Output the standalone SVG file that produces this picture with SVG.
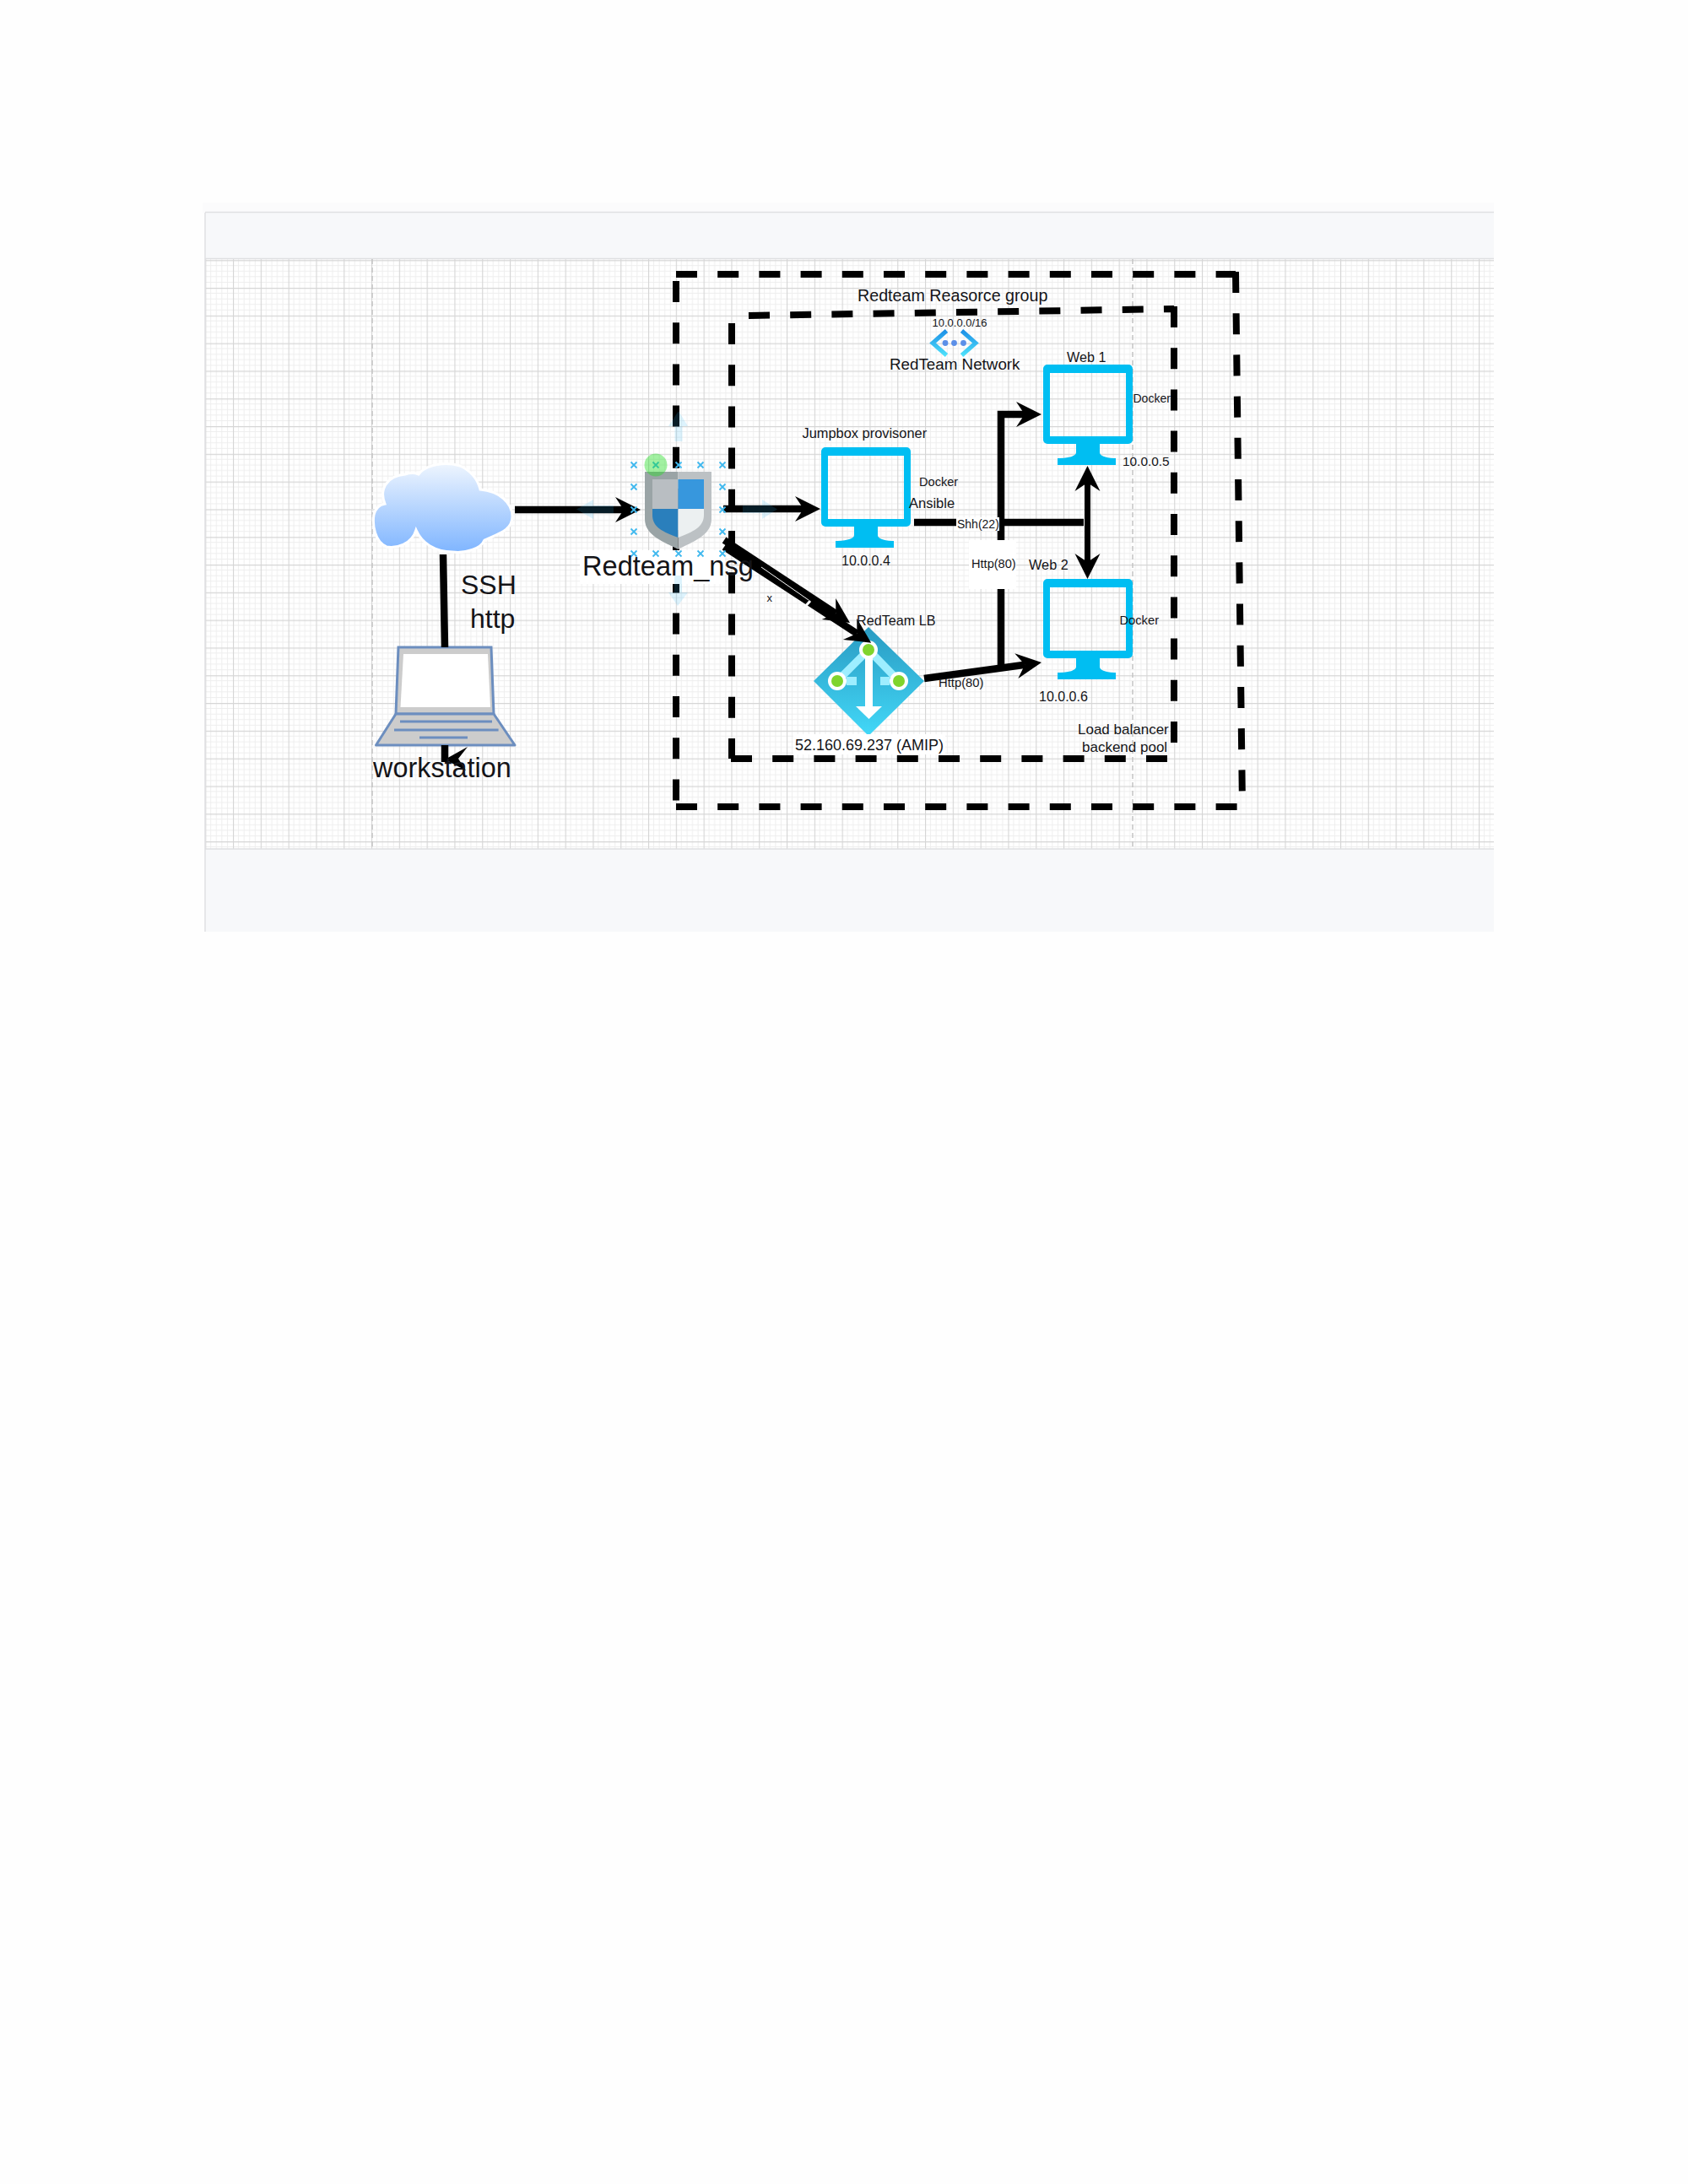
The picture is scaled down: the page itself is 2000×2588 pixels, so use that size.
<svg xmlns="http://www.w3.org/2000/svg" width="2000" height="2588" viewBox="0 0 2000 2588">
<style>
text{font-family:"Liberation Sans",Arial,sans-serif;fill:#141418}
.box{fill:none;stroke:#000;stroke-width:8;stroke-dasharray:25 24.2}
.conn{fill:none;stroke:#000;stroke-width:8.5}
.arr{marker-end:url(#head)}
.pageline{stroke:#c4c4c4;stroke-width:1.5;stroke-dasharray:6 4;fill:none}
.bg{fill:#fff}
.hint{fill:#29b6f2;opacity:.16}
.mon{fill:#00bef2;fill-rule:evenodd}
.lap{stroke:#6c8ebf;stroke-width:3}
.key{fill:none;stroke:#6c8ebf;stroke-width:3}
.x{stroke:#3fb8ee;stroke-width:1.8;fill:none}
.band{fill:#f7f8fa}
.rule{stroke:#dfe0e2;stroke-width:1.5}
</style>
<defs>
<pattern id="grid" patternUnits="userSpaceOnUse" x="243.2" y="308.2" width="32.8" height="32.8">
<path d="M6.56 0V32.8M13.12 0V32.8M19.68 0V32.8M26.24 0V32.8M0 6.56H32.8M0 13.12H32.8M0 19.68H32.8M0 26.24H32.8" stroke="#eeeeee" stroke-width="1" fill="none"/>
<path d="M0.5 0V32.8M0 0.5H32.8" stroke="#d6d6d6" stroke-width="1.3" fill="none"/>
</pattern>
<marker id="head" markerUnits="userSpaceOnUse" markerWidth="30" markerHeight="30" refX="10" refY="15" orient="auto-start-reverse" overflow="visible">
<path d="M0 0L30 15L0 30L10 15Z" fill="#000"/>
</marker>
<linearGradient id="cloudG" x1="0" y1="0" x2="0" y2="1"><stop offset="0" stop-color="#eef5fe"/><stop offset="1" stop-color="#7fb5ff"/></linearGradient>
<linearGradient id="lbG" x1="0" y1="0" x2="0" y2="1"><stop offset="0" stop-color="#2a9bc2"/><stop offset="1" stop-color="#42d8f8"/></linearGradient>
<linearGradient id="vnetG" gradientUnits="userSpaceOnUse" x1="0" y1="391" x2="0" y2="422"><stop offset="0" stop-color="#1b8ee6"/><stop offset="1" stop-color="#50e3fb"/></linearGradient>
<path id="monitor" class="mon" d="M5 0H101a5 5 0 0 1 5 5V89a5 5 0 0 1-5 5H5a5 5 0 0 1-5-5V5a5 5 0 0 1 5-5ZM8 10V85H98V10ZM39 94H67V104Q67 110 84 111H86V119H17V111H19Q39 110 39 104Z"/>
<path id="xm" class="x" d="M-3.5 -3.5L3.5 3.5M3.5 -3.5L-3.5 3.5"/>
</defs>

<g id="canvas">
<rect width="2000" height="2588" fill="#fefefe"/>
<rect x="240" y="240" width="1530" height="12" fill="#fbfbfc"/>
<rect class="band" x="243" y="252" width="1527" height="55"/>
<rect x="243" y="307" width="1527" height="699" fill="#fff"/>
<rect x="243" y="307" width="1527" height="699" fill="url(#grid)"/>
<rect class="band" x="243" y="1006" width="1527" height="98"/>
<path class="rule" d="M243 251.5H1770M243 306.5H1770M243 1006H1770M243 252V1104"/>
<path class="pageline" d="M441 307V1005M1342 307V1005"/>
</g>

<g id="resource-group">
<path class="box" d="M801 325H1464M1464 322L1472 956M801 956H1466M801 333V956"/>
</g>
<rect id="nsg-label-bg" class="bg" x="687" y="652" width="172" height="40"/>
<g id="vnet-box">
<path class="box" d="M887 374L1391 366M1391 363V880M866 899H1383M867 383V899"/>
</g>

<g id="internet">
<path d="M456 597C449 580 458 564 480 562C486 560 491 560 496 562C505 550 528 547 545 552C558 558 566 568 569 580C592 582 607 596 607 612C607 628 592 632 574 640C570 650 552 656 536 654C516 654 500 644 493 628C488 645 470 650 458 648C444 642 441 622 443 610C445 602 450 598 456 597Z" fill="url(#cloudG)" stroke="#fff" stroke-width="3"/>
</g>

<g id="workstation-node">
<path class="lap" d="M472 767H582L585 846H469Z" fill="#ccc"/>
<path d="M478 775H578L581 838H474.5Z" fill="#fff"/>
<path class="lap" d="M469 846H585L610 883H445.5Z" fill="#ccc" stroke-linejoin="round"/>
<path class="key" d="M474 855H583M467 865H590.6M497 874H554"/>
</g>

<g id="nsg">
<path d="M764 559H803.5V651C787 642 764 635 764 615Z" fill="#9aa4a6"/>
<path d="M803.5 559H843V615C843 635 820 642 803.5 651Z" fill="#bcc1c4"/>
<rect x="773" y="568" width="30.5" height="35" fill="#b9bec2"/>
<rect x="803.5" y="568" width="30.5" height="35" fill="#3797dd"/>
<path d="M773 603H803.5V637C785 630 773 625 773 610Z" fill="#2a7fbc"/>
<path d="M803.5 603H834V610C834 625 821 630 803.5 637Z" fill="#ecf0f1"/>
</g>

<g id="vnet">
<path d="M1121.5 392L1105 406.5L1121.5 421M1139.5 392L1156 406.5L1139.5 421" fill="none" stroke="url(#vnetG)" stroke-width="5"/>
<circle cx="1120" cy="406.5" r="3.4" fill="#5b8fe8"/><circle cx="1130.5" cy="406.5" r="3.4" fill="#5b8fe8"/><circle cx="1141.5" cy="406.5" r="3.4" fill="#5b8fe8"/>
</g>

<g id="jumpbox"><use href="#monitor" x="973" y="530"/></g>
<g id="web1"><use href="#monitor" x="1236" y="432"/></g>
<g id="web2"><use href="#monitor" x="1236" y="686"/></g>

<g id="load-balancer">
<path d="M1029 743L1095 807L1029 872L964 807Z" fill="url(#lbG)"/>
<path d="M1029 770L992 807M1029 770L1065 807" stroke="#9eeeff" stroke-width="9" fill="none"/>
<rect x="1003" y="802" width="12" height="10" fill="#9eeeff"/>
<rect x="1043" y="802" width="11" height="10" fill="#9eeeff"/>
<path d="M1025 770H1034V837H1045L1029.5 852L1014 837H1025Z" fill="#fff"/>
<circle cx="1029" cy="770" r="11" fill="#fff"/><circle cx="1029" cy="770" r="7" fill="#7fd42d"/>
<circle cx="992" cy="807" r="11" fill="#fff"/><circle cx="992" cy="807" r="7" fill="#7fd42d"/>
<circle cx="1065" cy="807" r="11" fill="#fff"/><circle cx="1065" cy="807" r="7" fill="#7fd42d"/>
</g>

<g id="connectors">
<path class="conn" d="M525 657L527 767M527 883V903"/>
<path d="M527 900L554 885L543 899L552 913Z" fill="#000"/>
<path class="conn arr" d="M610 604H739"/>
<path class="conn arr" d="M857 603H952"/>
<path class="conn arr" d="M858 640L990.3 727"/>
<path class="conn arr" d="M858 648L1015.4 750.8"/>
<path d="M902 672L958 711" stroke="#fff" stroke-width="1" fill="none"/>
<path d="M951 722L960 712" stroke="#fff" stroke-width="3" fill="none"/>
<path class="conn" d="M1083 619H1284"/>
<path class="conn arr" d="M1186 790V491H1214"/>
<path class="conn arr" d="M1095 804L1214.2 787.7"/>
<path class="conn arr" d="M1288.5 572V666" style="marker-start:url(#head);stroke-width:7"/>
</g>

<g id="nsg-selection">
<path class="hint" d="M804 487L815 505H808.5V523H799.5V505H792Z"/>
<path class="hint" d="M683 603.5L703 592V615Z"/>
<rect class="hint" x="703" y="599" width="24" height="9"/>
<path class="hint" d="M921 603.5L903 592V615Z"/>
<rect class="hint" x="880" y="599" width="23" height="9"/>
<path class="hint" d="M803 718L792 702H799V682H808V702H815Z"/>
<use href="#xm" x="751" y="551"/><use href="#xm" x="777" y="551"/><use href="#xm" x="804" y="551"/><use href="#xm" x="830" y="551"/><use href="#xm" x="856" y="551"/>
<use href="#xm" x="751" y="577"/><use href="#xm" x="856" y="577"/>
<use href="#xm" x="751" y="604"/><use href="#xm" x="856" y="604"/>
<use href="#xm" x="751" y="630"/><use href="#xm" x="856" y="630"/>
<use href="#xm" x="751" y="656"/><use href="#xm" x="777" y="656"/><use href="#xm" x="804" y="656"/><use href="#xm" x="830" y="656"/><use href="#xm" x="856" y="656"/>
<circle cx="777" cy="551" r="13.5" fill="#22dd22" opacity=".42"/>
</g>

<g id="labels">
<rect class="bg" x="1133" y="613" width="51" height="16"/>
<rect class="bg" x="1148" y="640" width="56" height="58"/>
<rect class="bg" x="940" y="870" width="180" height="24"/>
<text x="690" y="682" font-size="32.6">Redteam_nsg</text>
<text x="546" y="704" font-size="32">SSH</text>
<text x="557" y="744" font-size="32">http</text>
<text x="442" y="921" font-size="32.4">workstation</text>
<text x="1016" y="357" font-size="19.7">Redteam Reasorce group</text>
<text x="1104.5" y="387" font-size="13">10.0.0.0/16</text>
<text x="1054" y="438" font-size="18.8">RedTeam Network</text>
<text x="1264" y="429" font-size="16.2">Web 1</text>
<text x="1342.5" y="477" font-size="14">Docker</text>
<text x="950.5" y="519" font-size="16.4">Jumpbox provisoner</text>
<text x="1089" y="576" font-size="14.6">Docker</text>
<text x="1077" y="602" font-size="16.5">Ansible</text>
<text x="1134" y="626" font-size="14">Shh(22)</text>
<text x="997" y="670" font-size="16">10.0.0.4</text>
<text x="1330" y="552" font-size="15.4">10.0.0.5</text>
<text x="1151" y="673" font-size="14.6">Http(80)</text>
<text x="1219" y="675" font-size="16.3">Web 2</text>
<text x="908.5" y="713" font-size="13">x</text>
<text x="1015" y="741" font-size="16.2">RedTeam LB</text>
<text x="1326.5" y="740" font-size="14.7">Docker</text>
<text x="1112" y="814" font-size="14.8">Http(80)</text>
<text x="1231" y="831" font-size="16">10.0.0.6</text>
<text x="1277" y="870" font-size="17">Load balancer</text>
<text x="1282" y="891" font-size="17">backend pool</text>
<text x="942" y="889" font-size="18">52.160.69.237 (AMIP)</text>
</g>
</svg>
